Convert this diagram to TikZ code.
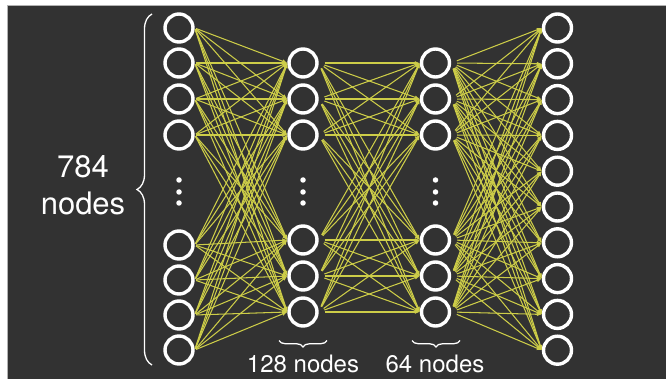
\documentclass[tikz,border=0pt]{standalone}
\usepackage{fontspec}
\setmainfont{TeX Gyre Heros}
\usetikzlibrary{arrows.meta,decorations.pathreplacing}
\definecolor{bg}{HTML}{323232}
\definecolor{wirecol}{RGB}{205,205,72}
\begin{document}
\begin{tikzpicture}[x=1pt,y=-1pt,
  neuron/.style={circle,draw=white,line width=3.4pt,minimum size=28pt,inner sep=0pt},
  dotnode/.style={circle,fill=white,minimum size=5.5pt,inner sep=0pt},
  wire/.style={draw=wirecol,line width=1.05pt,-{Latex[length=5pt,width=4pt]}},
  lbl/.style={text=white,font=\fontsize{24}{28}\selectfont,anchor=base},
  bigl/.style={text=white,font=\fontsize{31}{37}\selectfont,anchor=base},
  brc/.style={draw=white,line width=1.3pt,decorate}]
\useasboundingbox (0,0) rectangle (666,379);
\fill[white] (0,0) rectangle (666,379);
\fill[bg] (7,5) rectangle (666,379);
\draw[gray!60,line width=0.8pt] (7,379) -- (7,5) -- (666,5);
% layers
\foreach \y [count=\i] in {28,63,99,135,245,280,315,350}
  \node[neuron] (a\i) at (179,\y) {};
\foreach \y [count=\i] in {63,99,135,240,276,312}
  \node[neuron] (b\i) at (303,\y) {};
\foreach \y [count=\i] in {63,99,135,240,276,312}
  \node[neuron] (c\i) at (435.5,\y) {};
\foreach \i in {1,...,10}
  \node[neuron] (d\i) at (557.5,{28+35.8*(\i-1)}) {};
% ellipsis dots
\foreach \n/\x in {a/179,b/303,c/435.5}
  \foreach \y [count=\k] in {180,192,203}
    \node[dotnode] (\n dot\k) at (\x,\y) {};
% connections
\foreach \i in {1,...,8}
  \foreach \j in {1,...,6}
    \draw[wire,shorten <=1.5pt] (a\i.east) -- (b\j.west);
\foreach \i in {1,...,6}
  \foreach \j in {1,...,6}
    \draw[wire,shorten <=6pt] (b\i.east) -- (c\j.west);
\foreach \i in {1,...,6}
  \foreach \j in {1,...,10}
    \draw[wire,shorten <=6pt] (c\i.east) -- (d\j.west);
% braces
\coordinate (lbA) at (152,365);
\coordinate (lbB) at (152,14);
\draw[brc,decoration={brace,amplitude=15pt}] (lbA) -- (lbB);
\coordinate (bbA) at (327,340.5);
\coordinate (bbB) at (279,340.5);
\draw[brc,decoration={brace,amplitude=6.5pt}] (bbA) -- (bbB);
\coordinate (cbA) at (460,340.5);
\coordinate (cbB) at (412,340.5);
\draw[brc,decoration={brace,amplitude=6.5pt}] (cbA) -- (cbB);
% labels
\node[bigl] (t784) at (83,178) {784};
\node[bigl] (tnodes) at (83,215) {nodes};
\node[lbl] (t128) at (303,372) {128 nodes};
\node[lbl] (t64) at (435,372) {64 nodes};
\end{tikzpicture}
\end{document}
